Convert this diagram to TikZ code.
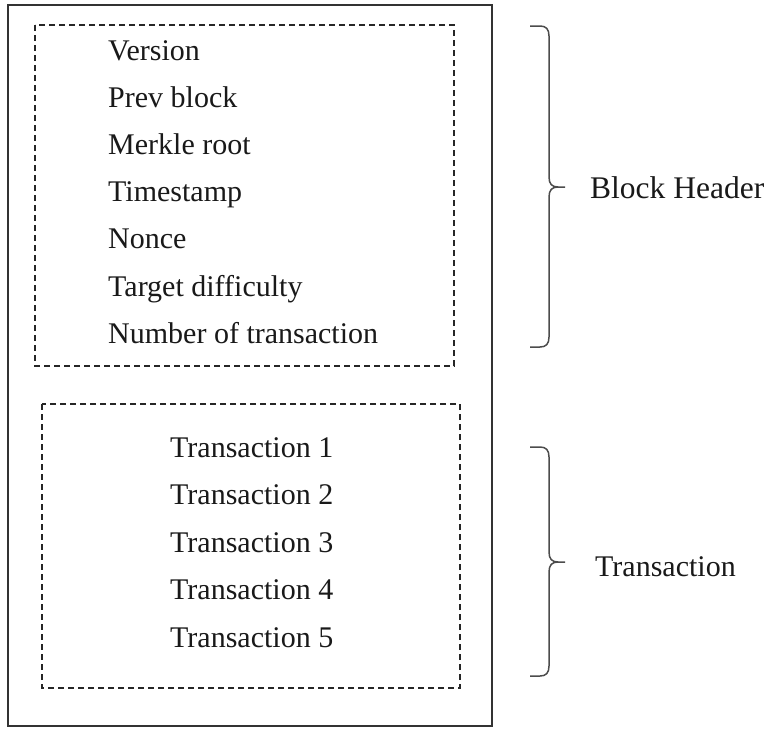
\documentclass[tikz,border=0pt]{standalone}
\usepackage{fontspec}
\setmainfont{Liberation Serif}
\begin{document}
\begin{tikzpicture}[x=1pt,y=-1pt,
  frame/.style={draw=black!80,line width=1.6pt},
  group/.style={draw=black!85,line width=1.2pt,dash pattern=on 6pt off 4pt},
  bracket/.style={draw=black!70,line width=1.5pt},
  field/.style={anchor=base west,inner sep=0pt,text=black!90,font=\fontsize{30}{36}\selectfont},
  caption/.style={anchor=base west,inner sep=0pt,text=black!90,font=\fontsize{31.5}{38}\selectfont}]
\useasboundingbox (0,0) rectangle (784,728);

% outer block
\coordinate (blkTL) at (8,5);
\coordinate (blkBR) at (492,726);
\draw[frame] (blkTL) rectangle (blkBR);

% header group
\coordinate (hdrTL) at (35,25);
\coordinate (hdrBR) at (454,366);
\draw[group] (hdrTL) rectangle (hdrBR);

\node[field] (f1) at (108,60)  {Version};
\node[field] (f2) at (108,107) {Prev block};
\node[field] (f3) at (108,154) {Merkle root};
\node[field] (f4) at (108,201) {Timestamp};
\node[field] (f5) at (108,248) {Nonce};
\node[field] (f6) at (108,296) {Target difficulty};
\node[field] (f7) at (108,343) {Number of transaction};

% transaction group
\coordinate (txTL) at (42,404);
\coordinate (txBR) at (460,688);
\draw[group] (txTL) rectangle (txBR);

\node[field] (t1) at (170,457) {Transaction 1};
\node[field] (t2) at (170,504) {Transaction 2};
\node[field] (t3) at (170,552) {Transaction 3};
\node[field] (t4) at (170,599) {Transaction 4};
\node[field] (t5) at (170,647) {Transaction 5};

% braces
\draw[bracket] (530,26) -- (540,26) .. controls (546,26) and (549,29) .. (549,36)
  -- (549,177) .. controls (549,184) and (552,187) .. (558,187) -- (565,187)
  (558,187) .. controls (552,187) and (549,190) .. (549,197)
  -- (549,337) .. controls (549,344) and (546,347) .. (540,347) -- (530,347);
\node[caption] (hdrlbl) at (590,198) {Block Header};

\draw[bracket] (530,447) -- (540,447) .. controls (546,447) and (549,450) .. (549,457)
  -- (549,552) .. controls (549,559) and (552,562) .. (558,562) -- (565,562)
  (558,562) .. controls (552,562) and (549,565) .. (549,572)
  -- (549,666) .. controls (549,673) and (546,676) .. (540,676) -- (530,676);
\node[field] (txlbl) at (595,576) {Transaction};
\end{tikzpicture}
\end{document}
